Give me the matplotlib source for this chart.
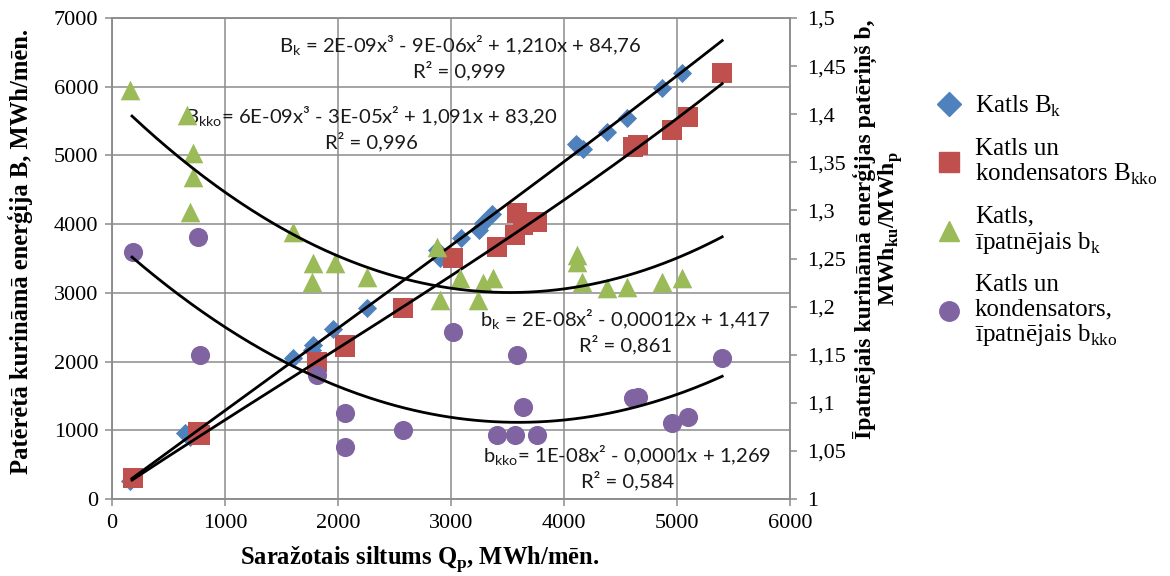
import numpy as np
import matplotlib
matplotlib.use("Agg")
import matplotlib.pyplot as plt
from matplotlib.lines import Line2D

plt.rcParams['font.family'] = ['Liberation Serif', 'DejaVu Serif']
plt.rcParams['mathtext.fontset'] = 'custom'
plt.rcParams['mathtext.rm'] = 'Liberation Serif'
plt.rcParams['mathtext.bf'] = 'Liberation Serif:bold'
plt.rcParams['mathtext.sf'] = 'Lato'

# -----------------------------------
# data
# -----------------------------------
# Katls, B_k (left axis)
q_k = [160, 650, 700, 717, 690, 1600, 1770, 1779, 1960, 2257, 2876, 2903,
       3090, 3245, 3283, 3365, 4110, 4120, 4165, 4381, 4558, 4870, 5044]
B_k = [262, 960, 975, 957, 896, 2050, 2170, 2240, 2480, 2780, 3620, 3510,
       3800, 3915, 4020, 4150, 5170, 5130, 5100, 5340, 5550, 5980, 6200]

# Katls, ipatnejais b_k (right axis)
q_bk = [159, 664, 717, 717, 690, 1602, 1770, 1779, 1973, 2257, 2876, 2903,
        3080, 3239, 3283, 3372, 4115, 4115, 4159, 4381, 4558, 4867, 5044]
b_k = [1.425, 1.399, 1.360, 1.335, 1.298, 1.278, 1.226, 1.245, 1.245, 1.231, 1.262, 1.207,
       1.230, 1.207, 1.225, 1.230, 1.254, 1.246, 1.226, 1.219, 1.220, 1.226, 1.230]

# Katls un kondensators
q_kko = [186, 761, 779, 1814, 2062, 2062, 2575, 3018, 3407, 3566, 3584, 3637,
         3761, 4611, 4655, 4956, 5097, 5398]
B_kko = [300, 968, 932, 1994, 2246, 2213, 2780, 3508, 3668, 3843, 4163, 3985,
         4032, 5124, 5148, 5371, 5560, 6201]
b_kko = [1.257, 1.272, 1.150, 1.129, 1.089, 1.054, 1.072, 1.174, 1.067, 1.067, 1.150, 1.096,
         1.067, 1.105, 1.106, 1.079, 1.085, 1.147]

# trend line coefficients (highest power first) and x span
coef_Bk = [2e-9, -9e-6, 1.210, 84.76]
coef_Bkko = [6e-9, -3e-5, 1.091, 83.20]
coef_bk = [1.64e-8, -1.155e-4, 1.418]
coef_bkko = [1.47e-8, -1.057e-4, 1.2697]
trend_span = [177, 5400]

right_ticks = [1, 1.05, 1.1, 1.15, 1.2, 1.25, 1.3, 1.35, 1.4, 1.45, 1.5]
right_ticklabels = ["1", "1,05", "1,1", "1,15", "1,2", "1,25", "1,3", "1,35", "1,4", "1,45", "1,5"]

eq_Bk = "B$_\\mathsf{k}$ = 2E-09x³ - 9E-06x² + 1,210x + 84,76\nR² = 0,999"
eq_Bkko = "B$_\\mathsf{kko}$= 6E-09x³ - 3E-05x² + 1,091x + 83,20\nR² = 0,996"
eq_bk = "b$_\\mathsf{k}$ = 2E-08x² - 0,00012x + 1,417\nR² = 0,861"
eq_bkko = "b$_\\mathsf{kko}$= 1E-08x² - 0,0001x + 1,269\nR² = 0,584"

c_blue = "#4F81BD"
c_red = "#C0504D"
c_green = "#9BBB59"
c_purple = "#8064A2"
grid_c = "#8C8C8C"

# -----------------------------------
# figure
# -----------------------------------
fig = plt.figure(figsize=(11.7, 5.76), dpi=100)
ax = fig.add_axes([112/1170, 1-499/576, 678/1170, 481/576])
ax2 = ax.twinx()

ax.set_xlim(0, 6000)
ax.set_ylim(0, 7000)
ax.set_xticks(np.arange(0, 6001, 1000))
ax.set_yticks(np.arange(0, 7001, 1000))
ax.grid(color=grid_c, lw=1.1)
ax.set_axisbelow(True)

ax2.set_ylim(1, 1.5)
ax2.set_yticks(right_ticks)
ax2.set_yticklabels(right_ticklabels)

for a in (ax, ax2):
    for s in a.spines.values():
        s.set_color(grid_c)
        s.set_linewidth(1.1)
    a.tick_params(colors=grid_c, labelcolor="black", labelsize=16, length=5, width=1.1)
ax.tick_params(axis="y", pad=5)
ax.tick_params(axis="x", pad=6)
ax2.tick_params(axis="y", pad=7)

xt = np.linspace(trend_span[0], trend_span[1], 200)

ax.scatter(q_k, B_k, marker="D", s=95, color=c_blue, zorder=3, linewidths=0)
ax.scatter(q_kko, B_kko, marker="s", s=200, color=c_red, zorder=3, linewidths=0)
ax.plot(xt, np.polyval(coef_Bk, xt), color="black", lw=2, zorder=4)
ax.plot(xt, np.polyval(coef_Bkko, xt), color="black", lw=2, zorder=4)

ax2.scatter(q_bk, b_k, marker="^", s=200, color=c_green, zorder=3, linewidths=0)
ax2.scatter(q_kko, b_kko, marker="o", s=190, color=c_purple, zorder=3, linewidths=0)
ax2.plot(xt, np.polyval(coef_bk, xt), color="black", lw=2, zorder=4)
ax2.plot(xt, np.polyval(coef_bkko, xt), color="black", lw=2, zorder=4)

eq_kw = dict(transform=ax.transAxes, ha="center", va="center", family="Lato",
             fontsize=14.6, color="#1a1a1a", linespacing=1.15, multialignment="center")
ax.text(0.513, 0.919, eq_Bk, **eq_kw)
ax.text(0.383, 0.771, eq_Bkko, **eq_kw)
ax.text(0.757, 0.349, eq_bk, **eq_kw)
ax.text(0.760, 0.067, eq_bkko, **eq_kw)

# axis labels
fig.text(420/1170, 1-560/576, "Saražotais siltums Q$_\\mathbf{p}$, MWh/mēn.",
         ha="center", va="center", fontsize=17.7, fontweight="bold")
fig.text(20/1170, 1-251/576, "Patērētā kurināmā enerģija B, MWh/mēn.",
         rotation=90, ha="center", va="center", fontsize=17.7, fontweight="bold")
fig.text(879/1170, 1-229/576,
         "Īpatnējais kurināmā enerģijas patēriņš b,\nMWh$_\\mathbf{ku}$/MWh$_\\mathbf{p}$",
         rotation=90, ha="center", va="center", multialignment="center",
         linespacing=1.0, fontsize=17, fontweight="bold")

handles = [
    Line2D([], [], ls="", marker="D", ms=12, color=c_blue),
    Line2D([], [], ls="", marker="s", ms=15, color=c_red),
    Line2D([], [], ls="", marker="^", ms=15, color=c_green),
    Line2D([], [], ls="", marker="o", ms=14, color=c_purple),
]
labels = [
    "Katls B$_\\mathrm{k}$",
    "Katls un\nkondensators B$_\\mathrm{kko}$",
    "Katls,\nīpatnējais b$_\\mathrm{k}$",
    "Katls un\nkondensators,\nīpatnējais b$_\\mathrm{kko}$",
]
leg = fig.legend(handles, labels, loc="upper left", bbox_to_anchor=(936/1170, 1-94/576),
                 frameon=False, fontsize=18, handletextpad=0.55, labelspacing=0.75,
                 borderaxespad=0, borderpad=0, handlelength=1.0)
for t in leg.get_texts():
    t.set_linespacing(1.1)

fig.savefig("out.png", dpi=100)
